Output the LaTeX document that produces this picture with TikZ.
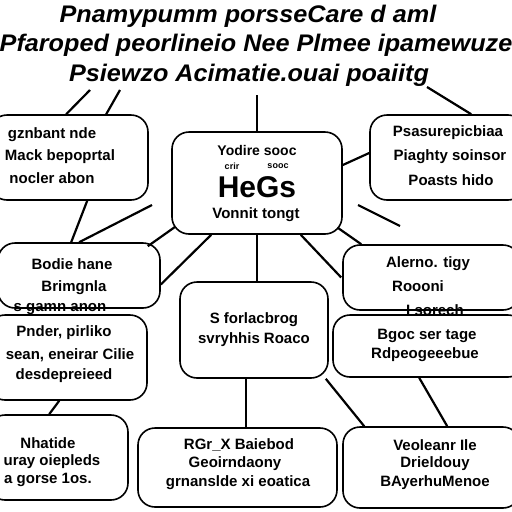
\documentclass[tikz,border=0pt]{standalone}
\usepackage{fontspec}
\setmainfont{Liberation Sans}
\usetikzlibrary{calc}
\begin{document}
\begin{tikzpicture}[x=1pt,y=-1pt,
  box/.style={draw=black, line width=1.6pt, rounded corners=17pt, inner sep=0pt},
  txt/.style={font=\bfseries\fontsize{15}{15}\selectfont, inner sep=0pt, anchor=center},
  ttl/.style={font=\bfseries\itshape\fontsize{24}{24}\selectfont, inner sep=0pt, anchor=center, xscale=1.05},
  conn/.style={draw=black, line width=2.2pt}]
\useasboundingbox (0,0) rectangle (512,512);
\fill[white] (0,0) rectangle (512,512);
\clip (0,0) rectangle (512,512);
% title
\node[ttl] (t1) at (248,16) {Pnamypumm porsseCare d aml};
\node[ttl] (t2) at (256,45) {Pfaroped peorlineio Nee Plmee ipamewuze};
\node[ttl] (t3) at (249,75) {Psiewzo Acimatie.ouai poaiitg};
% boxes
\node[box, minimum width=158pt, minimum height=85pt] (tl) at (69,157.5) {};
\node[box, minimum width=170pt, minimum height=102pt] (cen) at (257,183) {};
\node[box, minimum width=155pt, minimum height=85pt] (tr) at (447.5,157.5) {};
\node[box, minimum width=162pt, minimum height=65pt] (lm1) at (79,275.5) {};
\node[box, minimum width=159pt, minimum height=85pt] (lm2) at (67.5,357.5) {};
\node[box, minimum width=148pt, minimum height=96pt] (cl) at (254,330) {};
\node[box, minimum width=177pt, minimum height=65pt] (rm1) at (431.5,277.5) {};
\node[box, minimum width=192pt, minimum height=62pt] (rm2) at (429,346) {};
\node[box, minimum width=140pt, minimum height=85pt] (bl) at (58,457.5) {};
\node[box, minimum width=199pt, minimum height=79pt] (bc) at (237.5,467.5) {};
\node[box, minimum width=177pt, minimum height=81pt] (br) at (431.5,467.5) {};
% texts
\node[txt] (tla) at (52,135) {gznbant nde};
\node[txt] (tlb) at (60,157) {Mack bepoprtal};
\node[txt] (tlc) at (52,178) {nocler abon};
\node[txt, font=\bfseries\fontsize{14}{14}\selectfont] (cena) at (257,150) {Yodire sooc};
\node[txt, font=\bfseries\fontsize{9}{9}\selectfont] (cenb) at (232,166) {crir};
\node[txt, font=\bfseries\fontsize{9}{9}\selectfont] (cenc) at (278,166) {sooc};
\node[txt, font=\bfseries\fontsize{30}{30}\selectfont] (cend) at (257,187) {HeGs};
\node[txt] (cene) at (256,215) {Vonnit tongt};
\node[txt] (tra) at (448,133) {Psasurepicbiaa};
\node[txt] (trb) at (450,157) {Piaghty soinsor};
\node[txt] (trc) at (451,180) {Poasts hido};
\node[txt] (lma) at (72,264) {Bodie hane};
\node[txt] (lmb) at (74,288) {Brimgnla};
\node[txt] (lmc) at (60,309) {s gamn anon};
\node[txt] (lmd) at (64,333) {Pnder, pirliko};
\node[txt] (lme) at (70,355) {sean, eneirar Cilie};
\node[txt] (lmf) at (64,376) {desdepreieed};
\node[txt] (cla) at (254,320) {S forlacbrog};
\node[txt] (clb) at (254,340) {svryhhis Roaco};
\node[txt] (rma) at (428,264) {Alerno. tigy};
\node[txt] (rmb) at (418,286) {Roooni};
\node[txt] (rmc) at (435,310) {I sorech};
\node[txt] (rmd) at (427,336) {Bgoc ser tage};
\node[txt] (rme) at (425,355) {Rdpeogeeebue};
\node[txt] (bla) at (48,443) {Nhatide};
\node[txt] (blb) at (52,462) {uray oiepleds};
\node[txt] (blc) at (48,480) {a gorse 1os.};
\node[txt] (bca) at (239,445) {RGr\_X Baiebod};
\node[txt] (bcb) at (235,464) {Geoirndaony};
\node[txt] (bcc) at (238,483) {grnanslde xi eoatica};
\node[txt] (bra) at (435,445) {Veoleanr Ile};
\node[txt] (brb) at (435,464) {Drieldouy};
\node[txt] (brc) at (435,483) {BAyerhuMenoe};
% free coordinates
\coordinate (f1) at (90,90);
\coordinate (f2) at (120,90);
\coordinate (f3) at (257,95);
\coordinate (f4) at (427,87);
\coordinate (f5) at (152,205);
\coordinate (f6) at (358,205);
\coordinate (f7) at (400,226);
% connectors
\draw[conn] (f1) -- ($(tl.north west)+(77,0)$);
\draw[conn] (f2) -- ($(tl.north west)+(117,0)$);
\draw[conn] (f3) -- (cen.north);
\draw[conn] (f4) -- ($(tr.north west)+(102,0)$);
\draw[conn] ($(cen.east)+(0,-18)$) -- ($(tr.west)+(0,-4.5)$);
\draw[conn] ($(tl.south west)+(98,0)$) -- ($(lm1.north west)+(74,0)$);
\draw[conn] (f5) -- ($(lm1.north west)+(82,0)$);
\draw[conn] ($(cen.south west)+(4,-8)$) -- ($(lm1.north east)+(-13,4)$);
\draw[conn] ($(cen.south west)+(40,0)$) -- ($(lm1.east)+(0,9)$);
\draw[conn] (cen.south) -- ($(cl.north)+(3,0)$);
\draw[conn] ($(cen.south east)+(-5,-7)$) -- ($(rm1.north west)+(19,0)$);
\draw[conn] ($(cen.south east)+(-42,0)$) -- ($(rm1.west)+(-1,0)$);
\draw[conn] (f6) -- (f7);
\draw[conn] ($(lm2.south west)+(72,0)$) -- ($(bl.north west)+(62,0)$);
\draw[conn] ($(cl.south)+(-8,0)$) -- ($(bc.north)+(8.5,0)$);
\draw[conn] ($(cl.south east)+(-3,0)$) -- ($(br.north west)+(22,0)$);
\draw[conn] ($(rm2.south west)+(87,0)$) -- ($(br.north west)+(105,0)$);
\end{tikzpicture}
\end{document}
